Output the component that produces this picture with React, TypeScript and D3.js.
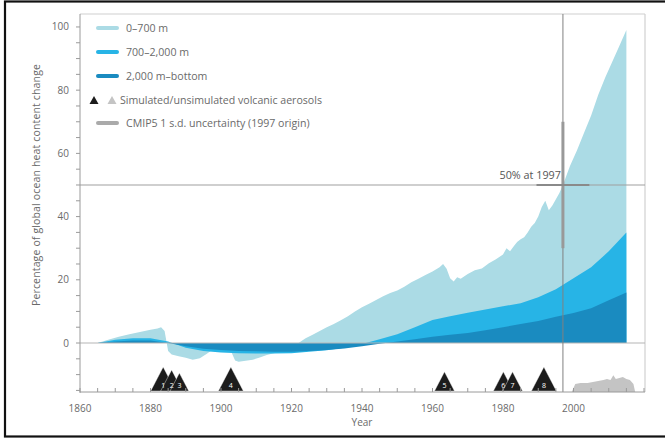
import React from "react";
import * as d3 from "d3";

// ---- Data ----
const totalYears = [1865,1868,1871,1874,1877,1880,1882,1883,1884,1885,1886,1888,1890,1892,1894,1896,1898,1900,1902,1903,1904,1905,1907,1909,1911,1913,1915,1917,1919,1921,1922,1924,1926,1928,1930,1932,1934,1936,1938,1940,1942,1944,1946,1948,1950,1952,1954,1956,1958,1960,1962,1963,1964,1965,1966,1967,1968,1970,1972,1974,1976,1978,1980,1981,1982,1983,1984,1985,1986,1987,1988,1989,1990,1991,1992,1993,1994,1995,1996,1997,1999,2001,2003,2005,2007,2009,2011,2013,2015];
const totalValues = [0,1,2,2.8,3.5,4.2,4.6,5,3.8,-2.5,-3.6,-4.2,-4.7,-5.3,-4.8,-3.4,-1.8,-1.5,-1.6,-3,-5.5,-5.9,-5.6,-5.3,-4.6,-3.8,-3.2,-2.7,-2.1,-1,0,1.5,2.6,3.8,5,6,7.2,8.5,10,11.3,12.4,13.6,14.8,15.8,16.6,17.8,19.2,20.3,21.5,22.6,24,25,23.5,20.5,19.5,20.8,20.3,21.8,23,23.6,25.2,26.5,28,30,29,30.5,32,32.8,33.5,35,36.8,38,40,43,45,42,43.5,45.5,47.5,50,56,61,66.5,72,78.5,84,89,94,99];

const layerYears = [1865,1870,1875,1880,1885,1890,1895,1900,1905,1910,1915,1920,1925,1930,1935,1940,1945,1950,1955,1960,1965,1970,1975,1980,1985,1990,1995,2000,2005,2010,2015];
const midValues = [0,1,1.5,1.5,0.5,-1.5,-2.5,-3,-3.2,-3.3,-3.3,-3.2,-2.8,-2.3,-1.5,-0.3,1.2,2.8,5,7.3,8.5,9.6,10.6,11.6,12.6,14.5,17,20.5,24,29,35];
const deepValues = [0,0.5,0.8,0.8,0,-1,-1.8,-2.2,-2.5,-2.6,-2.8,-2.8,-2.5,-2.2,-1.7,-1,-0.2,0.5,1.2,2,2.6,3.2,4,5,6,7,8.3,9.5,11,13.5,16];

const volcanoYears = [1883.6, 1886, 1888.2, 1902.8, 1963.4, 1980.1, 1982.7, 1991.6];
const volcanoLabels = ["1","2","3","4","5","6","7","8"];
const volcanoStrength = [10, 8.8, 7.5, 10, 8, 8, 8, 10];

const unsimYears = [1999.5,2000.5,2002,2004,2005.5,2007,2008.5,2009.5,2010.5,2011.3,2012,2013,2014,2015,2016,2017,2017.5];
const unsimValues = [0,3.3,3.7,3.7,4.2,4.6,5,5.4,5,7,5.4,5.8,6.2,5.4,5,3.3,0];

const uncertaintyCenter = [1997, 50];
const uncertaintySd = [7.5, 20];

const yTicksMajor = [0, 20, 40, 60, 80, 100];
const xTicksMajor = [1860, 1880, 1900, 1920, 1940, 1960, 1980, 2000];

const legendLabels = ["0–700 m", "700–2,000 m", "2,000 m–bottom", "Simulated/unsimulated volcanic aerosols", "CMIP5 1 s.d. uncertainty (1997 origin)"];

const C_LIGHT = "#abdbe5";
const C_MID = "#27b4e6";
const C_DEEP = "#1a8bc0";
const FONT = "'Open Sans', 'Liberation Sans', sans-serif";
const TXT = "#6a6a6a";

export default function App() {
  const W = 665, H = 438;
  const x = d3.scaleLinear().domain([1860, 2020]).range([80, 644]);
  const y = d3.scaleLinear().domain([-15.5, 104.1]).range([392, 14]);
  const vs = d3.scaleLinear().domain([0, 10]).range([0, 24]);
  const baseY = 391;

  const mkArea = (xs: number[], vs_: number[]) =>
    d3.area<number>()
      .x((_, i) => x(xs[i]))
      .y0(y(0))
      .y1((d) => y(d))(vs_) || "";

  const unsimArea = d3.area<number>()
    .x((_, i) => x(unsimYears[i]))
    .y0(baseY + 1)
    .y1((d) => baseY + 1 - vs(d))(unsimValues) || "";

  const yMinor = d3.range(-15, 101, 5);
  const xMinor = d3.range(1860, 2021, 5);

  const [cx, cy] = uncertaintyCenter;
  const [sdx, sdy] = uncertaintySd;

  return (
    <div style={{ position: "fixed", left: 0, top: 0 }}>
      <svg width={W} height={H} style={{ display: "block", background: "#fff" }} fontFamily={FONT}>
        {/* frame */}
        <line x1={80} x2={645} y1={14} y2={14} stroke="#d0d0d0" strokeWidth={1.2} />
        <line x1={645} x2={645} y1={14} y2={392} stroke="#d0d0d0" strokeWidth={1.2} />

        {/* areas */}
        <path d={mkArea(totalYears, totalValues)} fill={C_LIGHT} />
        <path d={mkArea(layerYears, midValues)} fill={C_MID} />
        <path d={mkArea(layerYears, deepValues)} fill={C_DEEP} />

        {/* reference lines */}
        <line x1={80} x2={645} y1={y(0)} y2={y(0)} stroke="#b5b5b5" strokeWidth={1} />
        <line x1={80} x2={645} y1={y(50)} y2={y(50)} stroke="#a0a0a0" strokeWidth={1.2} />
        <line x1={x(1997)} x2={x(1997)} y1={14} y2={392} stroke="#808080" strokeWidth={1} />

        {/* uncertainty cross */}
        <line x1={x(cx)} x2={x(cx)} y1={y(cy + sdy)} y2={y(cy - sdy)} stroke="#999" strokeWidth={3} />
        <line x1={x(cx - sdx)} x2={x(cx + sdx)} y1={y(cy)} y2={y(cy)} stroke="#8a8a8a" strokeWidth={2.2} />
        <text x={x(cx) - 2} y={y(cy) - 6} textAnchor="end" fontSize={10.8} fill="#555">50% at 1997</text>

        {/* volcanic */}
        <path d={unsimArea} fill="#c4c4c4" />
        {volcanoYears.map((yr, i) => {
          const h = vs(volcanoStrength[i]);
          const cxp = x(yr);
          return (
            <path key={"v" + i}
              d={`M${cxp - h * 0.52},${baseY}L${cxp},${baseY - h}L${cxp + h * 0.52},${baseY}Z`}
              fill="#1c1c1c" stroke="#fff" strokeWidth={0.4} />
          );
        })}
        {volcanoYears.map((yr, i) => (
          <text key={"vl" + i} x={x(yr)} y={baseY - 3} textAnchor="middle" fontSize={7} fill="#fff">{volcanoLabels[i]}</text>
        ))}

        {/* y axis */}
        <line x1={80} x2={80} y1={14} y2={393} stroke="#9a9a9a" strokeWidth={1} />
        {yMinor.map((v) => (
          <line key={"ym" + v} x1={76} x2={80} y1={y(v)} y2={y(v)} stroke="#9a9a9a" strokeWidth={1} />
        ))}
        {yTicksMajor.map((v) => (
          <text key={"yt" + v} x={69} y={y(v)} dy="0.35em" textAnchor="end" fontSize={10} fill={TXT}>{v}</text>
        ))}
        <text transform={`translate(40,${y(50)}) rotate(-90)`} textAnchor="middle" fontSize={10.5} letterSpacing={0.15} fill={TXT}>
          Percentage of global ocean heat content change
        </text>

        {/* x axis */}
        <line x1={80} x2={645} y1={392} y2={392} stroke="#9a9a9a" strokeWidth={1} />
        {xMinor.map((v) => (
          <line key={"xm" + v} x1={x(v)} x2={x(v)} y1={388} y2={392} stroke="#9a9a9a" strokeWidth={1} />
        ))}
        {xTicksMajor.map((v) => (
          <text key={"xt" + v} x={x(v)} y={408} dy="0.35em" textAnchor="middle" fontSize={10} fill={TXT}>{v}</text>
        ))}
        <text x={x(1940)} y={426} textAnchor="middle" fontSize={10} fill={TXT}>Year</text>

        {/* legend */}
        {[C_LIGHT, C_MID, C_DEEP].map((c, i) => (
          <line key={"ls" + i} x1={98} x2={117} y1={28 + i * 24} y2={28 + i * 24} stroke={c} strokeWidth={4} strokeLinecap="round" />
        ))}
        {legendLabels.slice(0, 3).map((t, i) => (
          <text key={"lt" + i} x={126} y={28 + i * 24} dy="0.35em" fontSize={10.6} fill={TXT}>{t}</text>
        ))}
        <path d="M89.5,104L94,96L98.5,104Z" fill="#1c1c1c" />
        <path d="M107.5,104L112,96L116.5,104Z" fill="#c4c4c4" />
        <text x={120} y={100} dy="0.35em" fontSize={10.6} fill={TXT}>{legendLabels[3]}</text>
        <line x1={98} x2={117} y1={123} y2={123} stroke="#aaa" strokeWidth={4} strokeLinecap="round" />
        <text x={126} y={123} dy="0.35em" fontSize={10.6} fill={TXT}>{legendLabels[4]}</text>

        {/* outer border */}
        <rect x={5} y={1.5} width={680} height={435} fill="none" stroke="#111" strokeWidth={2.2} />
      </svg>
    </div>
  );
}
